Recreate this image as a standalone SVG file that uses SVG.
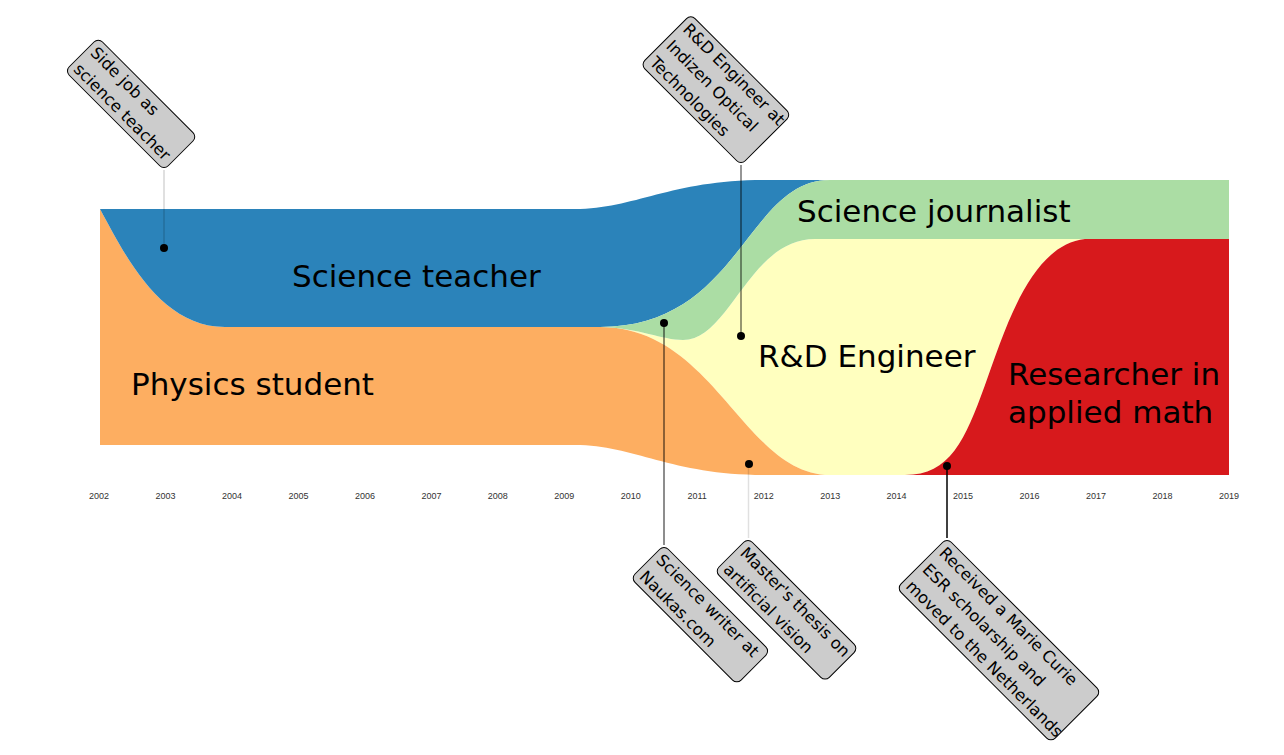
<svg xmlns="http://www.w3.org/2000/svg" width="1284" height="755" viewBox="0 0 1284 755">
  <style>
    .stream-label { font-family: "DejaVu Sans", Verdana, sans-serif; font-size: 31px; fill: #000; }
    .year { font-family: "Liberation Sans", Arial, sans-serif; font-size: 9px; fill: #333; text-anchor: middle; }
    .note rect { fill: #cccccc; stroke: #000; stroke-width: 1; }
    .note text { font-family: "DejaVu Sans", Verdana, sans-serif; font-size: 16.3px; fill: #000; }
    .link { stroke: #000; fill: none; }
    .dot { fill: #000; }
  </style>
  <rect width="1284" height="755" fill="#ffffff"/>

  <!-- stream areas -->
  <g id="streams">
    <!-- R&D Engineer (drawn as base layer for the right half) -->
    <path id="rd-engineer" fill="#ffffbf"
          d="M600,327 C640,328 662,340 683,340 C730,340 749,239 815,239 L1085,239 C1030,245 1005,330 985,385 C965,440 950,475 905,475 L830,475 C744,475 715,327 600,327 Z"/>
    <!-- Physics student -->
    <path id="physics-student" fill="#fdae61"
          d="M100,209 C125,255 160,327 225,327 L600,327 C715,327 744,475 830,475 L765,475 C670,475 635,445 575,445 L100,445 Z"/>
    <!-- Science teacher -->
    <path id="science-teacher" fill="#2b83ba"
          d="M100,209 L575,209 C635,209 670,180 765,180 L830,180 C746,180 740,327 600,327 L225,327 C160,327 125,255 100,209 Z"/>
    <!-- Science journalist -->
    <path id="science-journalist" fill="#abdda4"
          d="M600,327 C740,327 746,180 830,180 L1229,180 L1229,239 L815,239 C749,239 730,340 683,340 C662,340 640,328 600,327 Z"/>
    <!-- Researcher in applied math -->
    <path id="researcher" fill="#d7191c"
          d="M905,475 C950,475 965,440 985,385 C1005,330 1030,245 1085,239 L1229,239 L1229,475 Z"/>
  </g>

  <!-- stream labels -->
  <g id="stream-labels">
    <text class="stream-label" x="292" y="287">Science teacher</text>
    <text class="stream-label" x="131" y="395">Physics student</text>
    <text class="stream-label" x="797" y="222">Science journalist</text>
    <text class="stream-label" x="758" y="367">R&amp;D Engineer</text>
    <text class="stream-label" x="1008" y="385">Researcher in</text>
    <text class="stream-label" x="1008" y="423">applied math</text>
  </g>

  <!-- time axis -->
  <g id="axis">
    <text class="year" x="99" y="499">2002</text>
    <text class="year" x="165.5" y="499">2003</text>
    <text class="year" x="232" y="499">2004</text>
    <text class="year" x="298.4" y="499">2005</text>
    <text class="year" x="364.9" y="499">2006</text>
    <text class="year" x="431.4" y="499">2007</text>
    <text class="year" x="497.8" y="499">2008</text>
    <text class="year" x="564.3" y="499">2009</text>
    <text class="year" x="630.8" y="499">2010</text>
    <text class="year" x="697.2" y="499">2011</text>
    <text class="year" x="763.7" y="499">2012</text>
    <text class="year" x="830.2" y="499">2013</text>
    <text class="year" x="896.6" y="499">2014</text>
    <text class="year" x="963.1" y="499">2015</text>
    <text class="year" x="1029.6" y="499">2016</text>
    <text class="year" x="1096" y="499">2017</text>
    <text class="year" x="1162.5" y="499">2018</text>
    <text class="year" x="1229" y="499">2019</text>
  </g>

  <!-- connectors from events to their notes -->
  <g id="connectors">
    <line class="link" x1="164" y1="170" x2="164" y2="248" stroke-opacity="0.12" stroke-width="2"/>
    <line class="link" x1="741" y1="165" x2="741" y2="336" stroke-opacity="0.55" stroke-width="1.5"/>
    <line class="link" x1="664" y1="323" x2="664" y2="545" stroke-opacity="0.6" stroke-width="1.5"/>
    <line class="link" x1="748.5" y1="464" x2="748.5" y2="538" stroke-opacity="0.12" stroke-width="1.5"/>
    <line class="link" x1="947" y1="466" x2="947" y2="538" stroke-width="1.5"/>
    <circle class="dot" cx="164" cy="248" r="4"/>
    <circle class="dot" cx="664" cy="323" r="4"/>
    <circle class="dot" cx="741" cy="336" r="4"/>
    <circle class="dot" cx="749" cy="464" r="4"/>
    <circle class="dot" cx="947" cy="466" r="4"/>
  </g>

  <!-- event notes -->
  <g id="note-side-job" class="note" transform="translate(164,170) rotate(45)">
    <rect x="-140" y="-47" width="140" height="47" rx="6"/>
    <text x="-135" y="-29.5">Side job as</text>
    <text x="-135" y="-6">science teacher</text>
  </g>

  <g id="note-indizen" class="note" transform="translate(741,165) rotate(45)">
    <rect x="-142" y="-71" width="142" height="71" rx="6"/>
    <text x="-137" y="-53.5">R&amp;D Engineer at</text>
    <text x="-137" y="-30">Indizen Optical</text>
    <text x="-137" y="-6.5">Technologies</text>
  </g>

  <g id="note-naukas" class="note" transform="translate(664,545) rotate(45)">
    <rect x="0" y="0" width="150" height="47" rx="6"/>
    <text x="5" y="17.5">Science writer at</text>
    <text x="5" y="41">Naukas.com</text>
  </g>

  <g id="note-thesis" class="note" transform="translate(748,538) rotate(45)">
    <rect x="0" y="0" width="156" height="47" rx="6"/>
    <text x="5" y="17.5">Master's thesis on</text>
    <text x="5" y="41">artificial vision</text>
  </g>

  <g id="note-marie-curie" class="note" transform="translate(947,538) rotate(45)">
    <rect x="0" y="0" width="218" height="71" rx="6"/>
    <text x="5" y="17.5">Received a Marie Curie</text>
    <text x="5" y="41">ESR scholarship and</text>
    <text x="5" y="64.5">moved to the Netherlands</text>
  </g>
</svg>
